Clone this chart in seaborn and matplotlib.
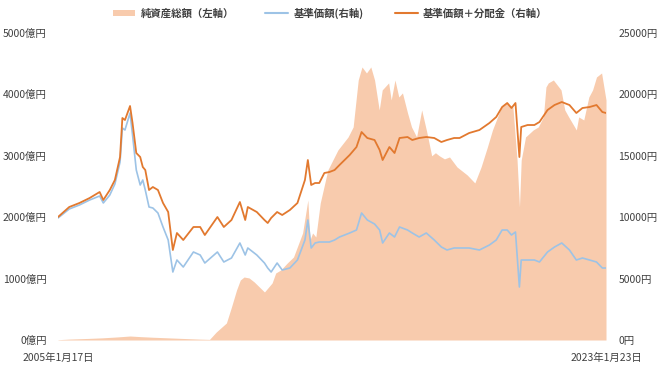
import matplotlib
matplotlib.use("Agg")
import matplotlib.pyplot as plt
import matplotlib.ticker as mticker
from matplotlib.patches import Patch
from matplotlib.lines import Line2D
import seaborn as sns
import pandas as pd

# ---- data ----
line_dates = [
    "2005-01-17", "2005-06-01", "2005-10-01", "2006-02-01", "2006-06-01", "2006-07-15",
    "2006-10-01", "2006-12-01", "2007-02-01", "2007-03-01", "2007-04-01", "2007-06-01",
    "2007-07-01", "2007-08-15", "2007-10-01", "2007-11-01", "2007-12-01", "2008-01-15",
    "2008-03-01", "2008-05-01", "2008-07-01",
    "2008-09-01", "2008-10-27", "2008-12-15", "2009-03-01", "2009-07-01", "2009-09-20",
    "2009-11-15", "2010-04-15", "2010-07-01", "2010-10-01", "2011-01-10", "2011-03-15",
    "2011-04-15", "2011-08-01", "2011-11-01", "2011-12-10", "2012-01-20", "2012-04-01",
    "2012-06-01", "2012-09-01", "2012-12-01", "2013-03-01", "2013-04-05",
    "2013-05-15", "2013-07-01", "2013-08-20", "2013-10-20",
    "2013-12-20", "2014-02-20", "2014-04-20", "2014-06-20", "2014-08-20", "2014-11-10",
    "2015-01-10", "2015-03-20", "2015-06-15", "2015-08-15", "2015-09-20", "2015-12-10",
    "2016-02-10", "2016-04-10", "2016-07-15", "2016-09-10", "2016-12-01", "2017-02-25",
    "2017-06-01", "2017-08-25", "2017-11-01", "2018-01-25", "2018-04-01", "2018-07-25",
    "2018-11-25", "2019-03-25", "2019-06-15", "2019-08-25", "2019-10-25", "2019-12-15",
    "2020-02-01", "2020-03-19", "2020-04-10", "2020-06-25", "2020-09-15", "2020-11-15",
    "2021-02-20", "2021-05-15", "2021-08-10", "2021-11-10", "2022-02-01", "2022-04-15",
    "2022-07-10", "2022-10-01", "2022-12-10", "2023-01-23",
]
nav_with_dist = [  # 基準価額＋分配金（右軸, 円）
    10016, 10830, 11156, 11563, 12052, 11400,
    12215, 13029, 14902, 18077, 17914, 19055,
    17670, 15227, 14902, 14087, 13843, 12215,
    12459, 12215, 11156,
    10423, 7329, 8713, 8143, 9202, 9202,
    8550, 10016, 9202, 9772, 11237, 9772,
    10830, 10423, 9772, 9527, 9934, 10423,
    10179, 10586, 11156, 13029, 14657,
    12622, 12785, 12785, 13599,
    13680, 13843, 14250, 14657, 15065, 15716,
    16937, 16449, 16286, 15472, 14657, 15716,
    15227, 16449, 16530, 16286, 16449, 16530,
    16449, 16123, 16286, 16449, 16449, 16856,
    17100, 17670, 18159, 18973, 19299, 18892,
    19299, 14902, 17345, 17507, 17507, 17752,
    18729, 19136, 19380, 19136, 18485, 18892,
    18973, 19136, 18566, 18485,
]
nav = [  # 基準価額（右軸, 円）
    9934, 10667, 10993, 11400, 11726, 11156,
    11807, 12703, 14495, 17263, 17100, 18485,
    16693, 13843, 12622, 13029, 12215, 10830,
    10749, 10342, 9202,
    8143, 5537, 6514, 5944, 7166, 6922,
    6270, 7166, 6352, 6677, 7899, 6922,
    7492, 6922, 6270, 5863, 5537, 6270,
    5700, 5863, 6514, 8143, 9772,
    7492, 7899, 7980, 7980,
    7980, 8143, 8387, 8550, 8713, 8957,
    10342, 9772, 9446, 8957, 7899, 8713,
    8387, 9202, 8957, 8713, 8387, 8713,
    8143, 7573, 7329, 7492, 7492, 7492,
    7329, 7736, 8143, 8957, 8957, 8550,
    8794, 4316, 6514, 6514, 6514, 6352,
    7166, 7573, 7899, 7329, 6514, 6677,
    6514, 6352, 5863, 5863,
]

area_dates = [
    "2005-01-17", "2005-06-01", "2006-01-01", "2006-07-01", "2007-01-01", "2007-06-01",
    "2007-10-01", "2008-03-01", "2008-09-01", "2009-03-01", "2009-09-01", "2010-01-10",
    "2010-04-01", "2010-08-01", "2010-10-01", "2010-12-01", "2011-01-15", "2011-03-01",
    "2011-05-01", "2011-07-01", "2011-11-01", "2012-02-01", "2012-03-15", "2012-05-15",
    "2012-08-01", "2012-10-15", "2013-02-01", "2013-04-05", "2013-05-01", "2013-06-01",
    "2013-07-10", "2013-09-01", "2013-12-01", "2014-04-01", "2014-08-01", "2014-10-01",
    "2014-12-01", "2015-01-15", "2015-03-10", "2015-05-01", "2015-06-15", "2015-08-10",
    "2015-09-15", "2015-12-01", "2016-01-01", "2016-02-15", "2016-04-01", "2016-05-15",
    "2016-07-15", "2016-09-01", "2016-11-01", "2017-01-01", "2017-03-01", "2017-05-01",
    "2017-06-15", "2017-08-01", "2017-10-01", "2017-12-01", "2018-03-01", "2018-07-01",
    "2018-10-01", "2018-12-15", "2019-03-01", "2019-05-01", "2019-07-01", "2019-08-15",
    "2019-10-15", "2020-01-01", "2020-02-20", "2020-03-20", "2020-04-10", "2020-06-01",
    "2020-09-01", "2020-11-01", "2021-01-01", "2021-02-01", "2021-03-01", "2021-05-01",
    "2021-08-01", "2021-09-15", "2021-11-01", "2022-02-01", "2022-03-01", "2022-05-01",
    "2022-07-01", "2022-08-15", "2022-10-01", "2022-12-01", "2023-01-23",
]
net_assets = [  # 純資産総額（左軸, 億円）
    5, 15, 25, 35, 50, 65,
    55, 45, 35, 25, 15, 10,
    130, 277, 538, 815, 977, 1026,
    1010, 945, 782, 929, 1091, 1140,
    1254, 1352, 1743, 2280, 1629, 1743,
    1678, 2232, 2769, 3095, 3307, 3470,
    4235, 4447, 4349, 4447, 4235, 3747,
    4073, 4187, 3910, 4235, 3958, 4024,
    3698, 3470, 3307, 3747, 3400, 3000,
    3050, 3000, 2950, 2981, 2818, 2688,
    2558, 2818, 3144, 3421, 3633, 3796,
    3861, 3796, 2932, 2167, 2932, 3307,
    3421, 3470, 3633, 4121, 4187, 4235,
    4073, 3747, 3633, 3421, 3633, 3584,
    3958, 4073, 4284, 4349, 3910,
]

left_ticks = [0, 1000, 2000, 3000, 4000, 5000]
right_ticks = [0, 5000, 10000, 15000, 20000, 25000]
x_tick_labels = ["2005年1月17日", "2023年1月23日"]
legend_labels = ["純資産総額（左軸）", "基準価額(右軸)", "基準価額＋分配金（右軸）"]

# ---- style ----
AREA = "#F8CBAD"
BLUE = "#9DC3E6"
ORANGE = "#E2792F"
TXT = "#404040"

sns.set_theme(style="white")
plt.rcParams["font.family"] = ["Noto Sans CJK JP", "DejaVu Sans"]

df_line = pd.DataFrame({
    "date": pd.to_datetime(line_dates),
    "nav": nav,
    "navd": nav_with_dist,
})
df_area = pd.DataFrame({"date": pd.to_datetime(area_dates), "assets": net_assets})

fig = plt.figure(figsize=(6.6, 3.71), dpi=100)
ax = fig.add_axes([58 / 660, 1 - 340 / 371, (606 - 58) / 660, (340 - 33) / 371])
ax2 = ax.twinx()

ax.fill_between(df_area["date"], 0, df_area["assets"], color=AREA, linewidth=0)
sns.lineplot(data=df_line, x="date", y="nav", ax=ax2, color=BLUE, linewidth=1.2)
sns.lineplot(data=df_line, x="date", y="navd", ax=ax2, color=ORANGE, linewidth=1.3)

xmin = pd.Timestamp("2005-01-17")
xmax = pd.Timestamp("2023-01-23")
ax.set_xlim(xmin, xmax)
ax2.set_xlim(xmin, xmax)
ax.set_ylim(0, 5000)
ax2.set_ylim(0, 25000)

ax.set_yticks(left_ticks)
ax.yaxis.set_major_formatter(mticker.FuncFormatter(lambda v, p: f"{int(v)}億円"))
ax2.set_yticks(right_ticks)
ax2.yaxis.set_major_formatter(mticker.FuncFormatter(lambda v, p: f"{int(v)}円"))
ax.set_xticks([xmin, xmax])
ax.set_xticklabels(x_tick_labels)

for a in (ax, ax2):
    for s in a.spines.values():
        s.set_visible(False)
    a.set_xlabel("")
    a.set_ylabel("")
    a.tick_params(length=0, labelsize=7.5, colors=TXT)
    a.grid(False)
ax.tick_params(axis="y", pad=8)
ax2.tick_params(axis="y", pad=9)
ax.tick_params(axis="x", pad=9)

handles = [
    Patch(facecolor=AREA, edgecolor="none"),
    Line2D([0], [0], color=BLUE, linewidth=1.5),
    Line2D([0], [0], color=ORANGE, linewidth=1.5),
]
fig.legend(handles, legend_labels, loc="upper center", bbox_to_anchor=(0.5, 1.005),
           ncol=3, frameon=False, handlelength=2.2, handleheight=0.6,
           columnspacing=3.0, handletextpad=0.5,
           prop={"weight": "bold", "size": 7.5})
for t in fig.legends[0].get_texts():
    t.set_color(TXT)

fig.savefig("out.png", dpi=100)
